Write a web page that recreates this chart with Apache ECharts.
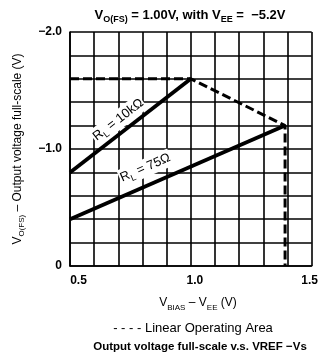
<!DOCTYPE html>
<html>
<head>
<meta charset="utf-8">
<script src="https://cdn.jsdelivr.net/npm/echarts@6/dist/echarts.min.js"></script>
<style>
html,body{margin:0;padding:0;background:#fff;}
#c{width:321px;height:360px;}
</style>
</head>
<body>
<div id="c"></div>
<script>
// ---- data ----
const xTicks = [0.5, 1.0, 1.5];
const yTicks = [-2.0, -1.0, 0];
const rl10k = [[0.5, -0.8], [1.0, -1.6]];
const rl75 = [[0.5, -0.4], [1.39, -1.2]];
const linearArea = [[0.5, -1.6], [1.0, -1.6], [1.39, -1.2], [1.39, 0]];
const label10kX = 0.73;
const label75X = 0.84;

const FONT = 'Liberation Sans, Arial, sans-serif';
const chart = echarts.init(document.getElementById('c'), null, {renderer: 'canvas'});

function mkRich(size, sub, weight) {
  return {
    m: {fontSize: size, fontFamily: FONT, fontWeight: weight, color: '#000', lineHeight: size + 5, verticalAlign: 'middle'},
    s: {fontSize: sub, fontFamily: FONT, fontWeight: weight, color: '#000', lineHeight: size + 5, verticalAlign: 'bottom'}
  };
}
const subRich = mkRich(12, 8, 'normal');

function near(v, list) { return list.some(t => Math.abs(t - v) < 1e-6); }
function fmtY(v) {
  if (Math.abs(v) < 1e-9) return '0';
  return (v < 0 ? '\u2212' : '') + Math.abs(v).toFixed(1);
}

chart.setOption({
  backgroundColor: '#fff',
  animation: false,
  grid: {left: 70, right: 7, top: 32, bottom: 94},
  xAxis: {
    type: 'value', min: 0.5, max: 1.5, interval: 0.1,
    axisLine: {show: true, lineStyle: {color: '#000', width: 1.6}},
    axisTick: {show: false},
    splitLine: {show: true, lineStyle: {color: '#000', width: 1.6}},
    axisLabel: {
      margin: 9, color: '#000', fontFamily: FONT, fontSize: 12, fontWeight: 'bold',
      formatter: v => {
        if (!near(v, xTicks)) return '';
        const s = v.toFixed(1);
        if (Math.abs(v - 0.5) < 1e-6) return '{a|' + s + '}';
        if (Math.abs(v - 1.0) < 1e-6) return '{b|' + s + '}';
        return '{c|' + s + '}';
      },
      rich: {
        a: {fontFamily: FONT, fontSize: 12, fontWeight: 'bold', color: '#000', padding: [0, 0, 0, 17]},
        b: {fontFamily: FONT, fontSize: 12, fontWeight: 'bold', color: '#000', padding: [0, 0, 0, 8]},
        c: {fontFamily: FONT, fontSize: 12, fontWeight: 'bold', color: '#000', padding: [0, 4, 0, 0]}
      }
    }
  },
  yAxis: {
    type: 'value', min: -2, max: 0, interval: 0.2, inverse: true,
    axisLine: {show: true, lineStyle: {color: '#000', width: 1.6}},
    axisTick: {show: false},
    splitLine: {show: true, lineStyle: {color: '#000', width: 1.6}},
    axisLabel: {
      margin: 8, color: '#000', fontFamily: FONT, fontSize: 12, fontWeight: 'bold',
      formatter: v => near(v, yTicks) ? fmtY(v) : ''
    },
    name: '{m|V}{s|O(FS)}{m| \u2013 Output voltage full-scale (V)}',
    nameLocation: 'middle', nameGap: 44, nameRotate: 90,
    nameTextStyle: {rich: subRich}
  },
  series: [
    {type: 'line', data: rl10k, symbol: 'none', lineStyle: {color: '#000', width: 3.8}, z: 3},
    {type: 'line', data: rl75, symbol: 'none', lineStyle: {color: '#000', width: 3.8}, z: 3},
    {type: 'line', data: linearArea, symbol: 'none', lineStyle: {color: '#000', width: 3, type: [9, 4]}, z: 4}
  ]
});

function lineLabel(series, xv, text, offset) {
  const p0 = chart.convertToPixel({gridIndex: 0}, series[0]);
  const p1 = chart.convertToPixel({gridIndex: 0}, series[1]);
  const t = (xv - series[0][0]) / (series[1][0] - series[0][0]);
  const yv = series[0][1] + t * (series[1][1] - series[0][1]);
  const p = chart.convertToPixel({gridIndex: 0}, [xv, yv]);
  const ang = Math.atan2(-(p1[1] - p0[1]), p1[0] - p0[0]);
  const nx = -Math.sin(ang), ny = -Math.cos(ang);
  return {
    type: 'text', x: p[0] + nx * offset, y: p[1] + ny * offset, rotation: ang,
    style: {text: text, rich: mkRich(13, 9, 'normal'), align: 'center', verticalAlign: 'middle',
            backgroundColor: '#fff', padding: [0, 1, 0, 1]},
    z: 10
  };
}

chart.setOption({
  graphic: [
    {type: 'text', x: 190, y: 15, style: {text: '{m|V}{s|O(FS)}{m| = 1.00V, with V}{s|EE}{m| =  \u22125.2V}', rich: mkRich(13, 9, 'bold'), align: 'center', verticalAlign: 'middle'}},
    lineLabel(rl10k, label10kX, '{m|R}{s|L}{m| = 10k\u03A9}', 12),
    lineLabel(rl75, label75X, '{m|R}{s|L}{m| = 75\u03A9}', 17),
    {type: 'text', x: 198, y: 303, style: {text: '{m|V}{s|BIAS}{m| \u2013 V}{s|EE}{m| (V)}', rich: mkRich(12, 8, 'normal'), align: 'center', verticalAlign: 'middle'}},
    {type: 'text', x: 193, y: 328, style: {text: '- - - - Linear Operating Area', font: '13px ' + FONT, fill: '#000', align: 'center', verticalAlign: 'middle'}},
    {type: 'text', x: 200, y: 347, style: {text: 'Output voltage full-scale v.s. VREF \u2212Vs', font: 'bold 11.5px ' + FONT, fill: '#000', align: 'center', verticalAlign: 'middle'}}
  ]
});
</script>
</body>
</html>
